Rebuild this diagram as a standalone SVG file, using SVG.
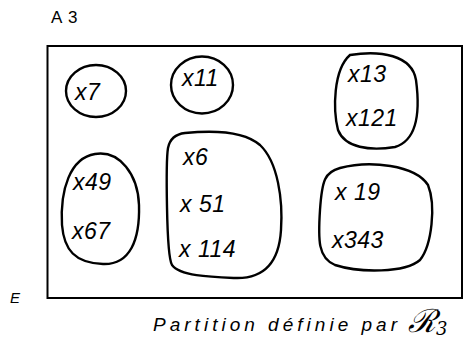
<svg xmlns="http://www.w3.org/2000/svg" width="471" height="345" viewBox="0 0 471 345">
<style>
.b{fill:none;stroke:#000;stroke-width:2.4}
.t{font-family:"Liberation Sans",sans-serif;font-style:italic;font-size:23px;fill:#000;letter-spacing:0.5px}
.h{font-family:"Liberation Sans",sans-serif;font-size:17px;fill:#000;letter-spacing:1px}
</style>
<rect width="471" height="345" fill="#fff"/>
<text class="h" x="51" y="23">A 3</text>
<rect x="47.5" y="46" width="414.5" height="252" fill="none" stroke="#000" stroke-width="2"/>
<text x="10" y="303" font-family="Liberation Sans,sans-serif" font-style="italic" font-size="15">E</text>
<g id="c1">
<ellipse class="b" cx="96" cy="91" rx="30" ry="26"/>
<text class="t" x="75" y="100">x7</text>
</g>
<g id="c2">
<ellipse class="b" cx="202" cy="85" rx="31" ry="28.5"/>
<text class="t" x="182" y="86">x11</text>
</g>
<g id="c3">
<path class="b" d="M350 55 C380 50,412 55,416 80 C420 110,418 140,395 147 C370 151,345 148,338 130 C333 110,333 70,350 55Z"/>
<text class="t" x="348" y="82">x13</text>
<text class="t" x="346" y="126">x121</text>
</g>
<g id="c4">
<path class="b" d="M95 154 C120 150,138 175,139 205 C140 240,130 265,103 264 C75 263,64 250,62 225 C60 190,70 158,95 154Z"/>
<text class="t" x="73" y="190">x49</text>
<text class="t" x="72" y="239">x67</text>
</g>
<g id="c5">
<path class="b" d="M185 133 C215 130,245 132,260 145 C278 162,283 200,281 230 C279 262,265 279,235 278 C210 277,180 276,172 265 C166 255,166 160,168 148 C170 138,176 134,185 133Z"/>
<text class="t" x="183" y="165">x6</text>
<text class="t" x="180" y="212">x 51</text>
<text class="t" x="179" y="257">x 114</text>
</g>
<g id="c6">
<path class="b" d="M340 168 C370 160,415 165,428 185 C436 205,432 245,420 260 C405 273,360 273,335 265 C318 258,318 240,320 210 C322 180,325 172,340 168Z"/>
<text class="t" x="335" y="200">x 19</text>
<text class="t" x="332" y="248">x343</text>
</g>
<text x="153" y="331" font-family="Liberation Sans,sans-serif" font-style="italic" font-size="19" textLength="244">Partition définie par</text>
<text x="408" y="332" font-family="DejaVu Serif,serif" font-style="italic" font-size="32">ℛ<tspan font-size="18" dy="3">3</tspan></text>
</svg>
